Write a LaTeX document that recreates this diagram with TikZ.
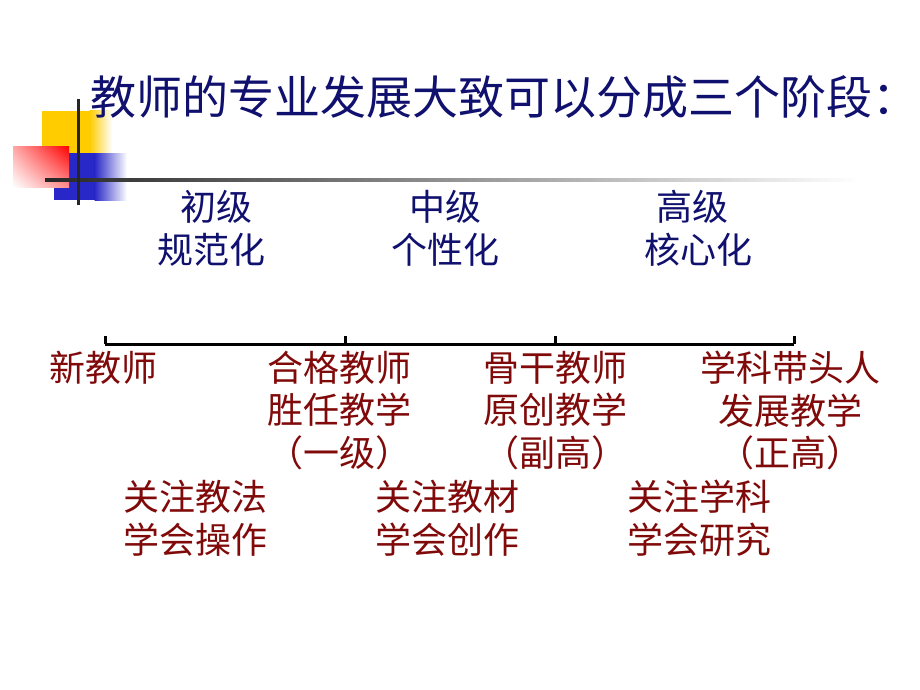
\documentclass[tikz,border=0pt]{standalone}
\usepackage{fontspec}
\newfontfamily\cjk{Noto Sans CJK SC}
\usepackage{tikz}
\usetikzlibrary{positioning, shadings}
\definecolor{navytxt}{RGB}{16,16,110}
\definecolor{redtxt}{RGB}{128,10,10}
\definecolor{gold}{RGB}{255,204,0}
\definecolor{ornblue}{RGB}{40,40,200}
\tikzstyle{title} = [inner sep=0, anchor=west, text=navytxt, font=\cjk\fontsize{46}{46}\selectfont]
\tikzstyle{stage} = [inner sep=0, text=navytxt, font=\cjk\fontsize{36}{36}\selectfont]
\tikzstyle{teacher} = [inner sep=0, align=center, text=redtxt, font=\cjk\fontsize{36}{42.5}\selectfont]
\tikzstyle{focus} = [inner sep=0, anchor=west, align=left, text=redtxt, font=\cjk\fontsize{36}{43}\selectfont]
\tikzstyle{axis} = [line width=3pt, black]

\begin{document}
\begin{tikzpicture} [x=1pt, y=-1pt]
        \useasboundingbox (0,0) rectangle (920,690);
        % corner ornament
        \fill[gold] (42,111) rectangle (90,153);
        \shade[left color=gold, right color=white] (89.5,111) rectangle (112,153);
        \fill[ornblue] (54,153) rectangle (95,200);
        \shade[left color=ornblue, right color=white] (94.5,153) rectangle (127,200);
        \shade[upper right=red, upper left=red!35, lower right=red!45, lower left=white] (13,146) rectangle (69,187);
        \shade[left color=black!85, right color=white] (45,178.5) rectangle (860,181.5);
        \draw[line width=3pt, black!85] (78,99) -- (78,205);

        \node (head) [title] at (90,97) {教师的专业发展大致可以分成三个阶段：};

        \node (chuji) [stage] at (216,207) {初级};
        \node (guifan) [stage] at (211,250) {规范化};
        \node (zhongji) [stage] at (445,207) {中级};
        \node (gexing) [stage] at (445,250) {个性化};
        \node (gaoji) [stage] at (692,207) {高级};
        \node (hexin) [stage] at (698,250) {核心化};

        % time line
        \coordinate (t0) at (105,344);
        \coordinate (t1) at (345,344);
        \coordinate (t2) at (555,344);
        \coordinate (t3) at (794,344);
        \draw[axis] (t0) -- (t3);
        \foreach \t in {t0,t1,t2,t3}
            \draw[axis] (\t) -- ++(0,-8);

        \node (xin) [teacher] at (103,368) {新教师};
        \node (hege) [teacher] at (339,410.5) {合格教师\\胜任教学\\（一级）};
        \node (gugan) [teacher] at (555,410.5) {骨干教师\\原创教学\\（副高）};
        \node (daitou) [teacher] at (790,410.5) {学科带头人\\发展教学\\（正高）};

        \node (jiaofa) [focus] at (123,518.5) {关注教法\\学会操作};
        \node (jiaocai) [focus] at (375,518.5) {关注教材\\学会创作};
        \node (xueke) [focus] at (627,518.5) {关注学科\\学会研究};
    \end{tikzpicture}
\end{document}
